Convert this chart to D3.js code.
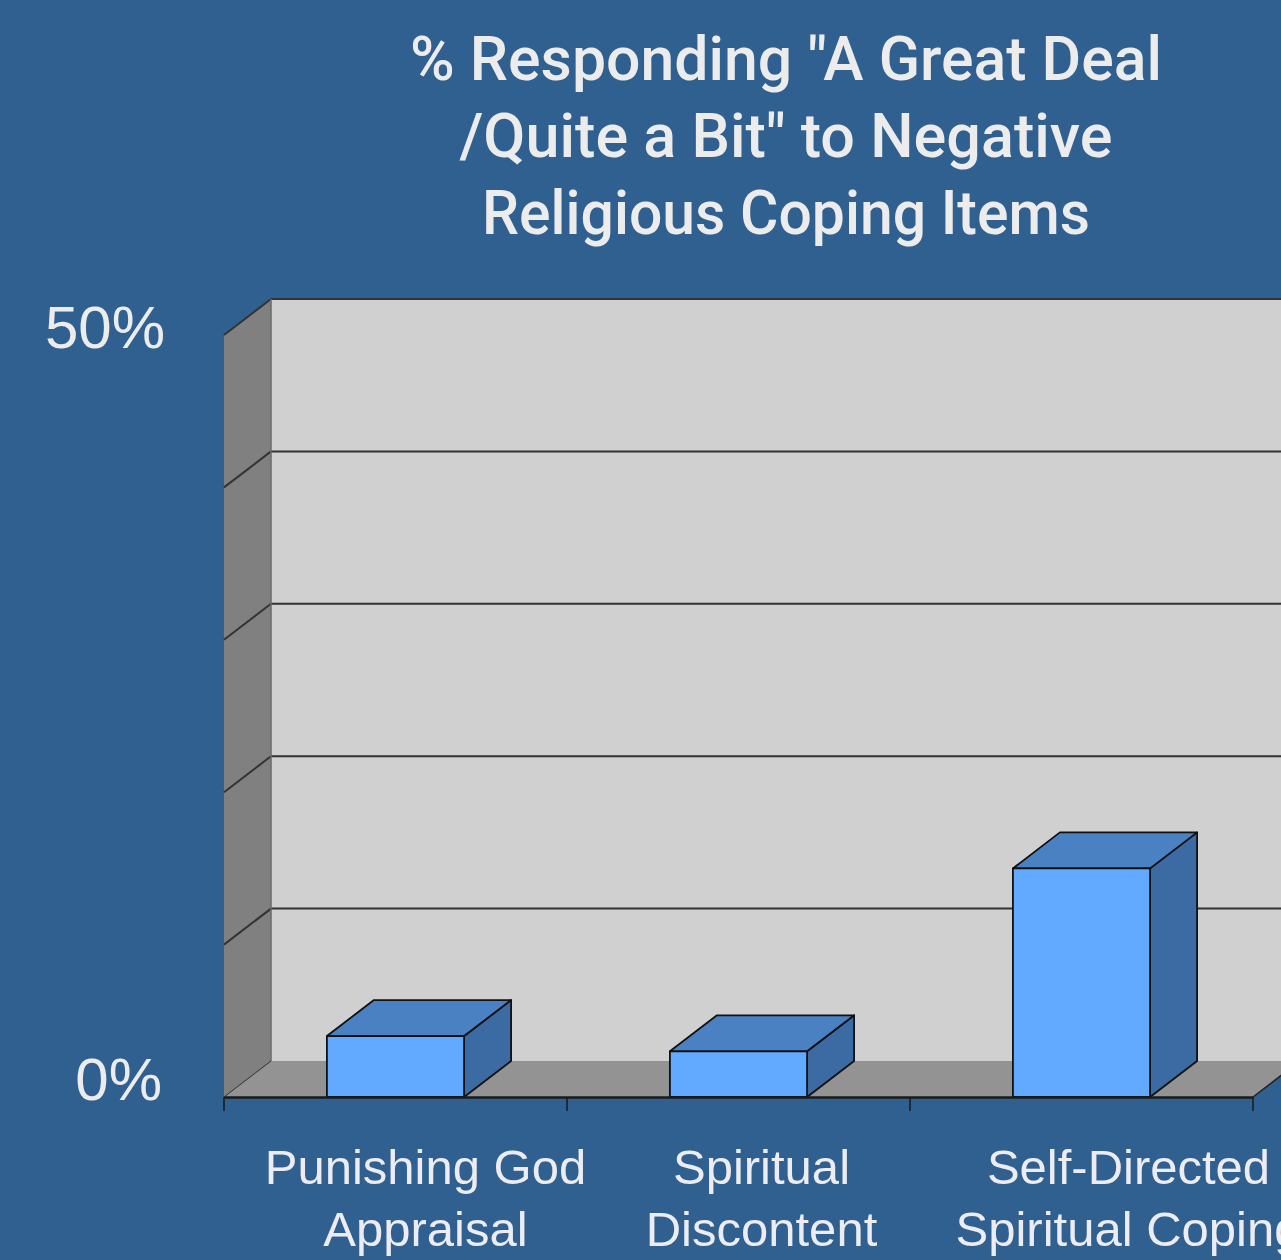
<!DOCTYPE html>
<html>
<head>
<meta charset="utf-8">
<script src="https://cdn.jsdelivr.net/npm/d3@7"></script>
<style>
  html, body { margin: 0; padding: 0; background: #30608f; overflow: hidden; }
  svg { display: block; }
</style>
</head>
<body>
<svg id="chart" width="1281" height="1260"></svg>
<script>
// ---- data ----
const categories = ["Punishing God Appraisal", "Spiritual Discontent", "Self-Directed Spiritual Coping"];
const categoryLines = [["Punishing God", "Appraisal"], ["Spiritual", "Discontent"], ["Self-Directed", "Spiritual Coping"]];
const values = [4, 3, 15];
const yTicks = [0, 10, 20, 30, 40, 50];
const yTickLabels = ["0%", "50%"];
const yTickLabelValues = [0, 50];
const titleLines = ["% Responding \"A Great Deal", "/Quite a Bit\" to Negative", "Religious Coping Items"];

// ---- layout ----
const W = 1281, H = 1260;
const x0 = 224, x1 = 1253;     // front plane x extent
const yBase = 1097, yTop = 335; // front plane y for 0 and 50
const DX = 47, DY = -36;        // depth offset
const svg = d3.select("#chart");

const x = d3.scaleBand().domain(categories).range([x0, x1]).padding(0);
const y = d3.scaleLinear().domain([0, 50]).range([yBase, yTop]);

const colors = {
  back: "#d0d0d0", left: "#808080", floor: "#939393",
  grid: "#333333", front: "#62aaff", top: "#4a81c2", side: "#3c6aa3", edge: "#111"
};

// background
svg.append("rect").attr("width", W).attr("height", H).attr("fill", "#30608f");

// title
const title = svg.append("g");
const titleWidths = [752, 653, 608];
titleLines.forEach((t, i) => {
  title.append("text")
    .attr("x", 786).attr("y", 80 + i * 77)
    .attr("text-anchor", "middle")
    .attr("font-family", "Roboto, 'Liberation Sans', sans-serif")
    .attr("font-weight", 500)
    .attr("font-size", 62)
    .attr("fill", "#ececec")
    .attr("textLength", titleWidths[i])
    .attr("lengthAdjust", "spacingAndGlyphs")
    .text(t);
});

const pt = (px, py) => px + "," + py;

// back wall
svg.append("polygon")
  .attr("points", [pt(x0 + DX, y(50) + DY), pt(x1 + DX + 60, y(50) + DY), pt(x1 + DX + 60, y(0) + DY), pt(x0 + DX, y(0) + DY)].join(" "))
  .attr("fill", colors.back);

// left wall
svg.append("polygon")
  .attr("points", [pt(x0, y(50)), pt(x0 + DX, y(50) + DY), pt(x0 + DX, y(0) + DY), pt(x0, y(0))].join(" "))
  .attr("fill", colors.left);

// floor
svg.append("polygon")
  .attr("points", [pt(x0, y(0)), pt(x0 + DX, y(0) + DY), pt(x1 + DX, y(0) + DY), pt(x1, y(0))].join(" "))
  .attr("fill", colors.floor);

// gridlines (back wall + left wall diagonals)
const grid = svg.append("g").attr("stroke", colors.grid).attr("stroke-width", 2).attr("fill", "none");
yTicks.forEach(v => {
  if (v > 0) {
    grid.append("line")
      .attr("x1", x0 + DX).attr("x2", x1 + DX + 60)
      .attr("y1", y(v) + DY).attr("y2", y(v) + DY);
  }
  grid.append("line")
    .attr("x1", x0).attr("y1", y(v))
    .attr("x2", x0 + DX).attr("y2", y(v) + DY)
    .attr("stroke-width", v === 0 ? 1 : 2);
});
// back wall left edge shading
svg.append("line")
  .attr("x1", x0 + DX).attr("x2", x0 + DX)
  .attr("y1", y(50) + DY).attr("y2", y(0) + DY)
  .attr("stroke", "#6a6a6a").attr("stroke-width", 1.5);

// bars
const barW = x.bandwidth() * 0.4;
const bars = svg.append("g").attr("stroke", colors.edge).attr("stroke-width", 1.8).attr("stroke-linejoin", "round");
categories.forEach((c, i) => {
  const bx = x(c) + (x.bandwidth() - barW) / 2;
  const ty = y(values[i]);
  const by = y(0);
  // side
  bars.append("polygon")
    .attr("points", [pt(bx + barW, ty), pt(bx + barW + DX, ty + DY), pt(bx + barW + DX, by + DY), pt(bx + barW, by)].join(" "))
    .attr("fill", colors.side);
  // top
  bars.append("polygon")
    .attr("points", [pt(bx, ty), pt(bx + DX, ty + DY), pt(bx + barW + DX, ty + DY), pt(bx + barW, ty)].join(" "))
    .attr("fill", colors.top);
  // front
  bars.append("rect")
    .attr("x", bx).attr("y", ty).attr("width", barW).attr("height", by - ty)
    .attr("fill", colors.front);
});

// floor right edge
svg.append("line")
  .attr("x1", x1).attr("y1", y(0)).attr("x2", x1 + DX).attr("y2", y(0) + DY)
  .attr("stroke", "#222").attr("stroke-width", 1.5);

// x axis
const xAxis = d3.axisBottom(x).tickSize(0).tickFormat("");
const gx = svg.append("g").attr("transform", `translate(0,${yBase})`).call(xAxis);
gx.select(".domain").attr("stroke", "#1a1a1a").attr("stroke-width", 2.5);
// category boundary ticks
const bounds = categories.map(c => x(c)).concat([x1]);
gx.selectAll(".bound").data(bounds).join("line")
  .attr("class", "bound")
  .attr("x1", d => d).attr("x2", d => d)
  .attr("y1", 0).attr("y2", 14)
  .attr("stroke", "#1a1a1a").attr("stroke-width", 1.5);

// category labels
const labelDx = [30, 23, 47];
const lab = svg.append("g")
  .attr("font-family", "'Liberation Sans', Arial, sans-serif")
  .attr("font-size", 49)
  .attr("fill", "#ececf2")
  .attr("text-anchor", "middle");
categories.forEach((c, i) => {
  categoryLines[i].forEach((ln, j) => {
    lab.append("text")
      .attr("x", x(c) + x.bandwidth() / 2 + labelDx[i])
      .attr("y", 1184 + j * 62)
      .text(ln);
  });
});

// y labels
const yl = svg.append("g")
  .attr("font-family", "'Liberation Sans', Arial, sans-serif")
  .attr("font-size", 60)
  .attr("fill", "#ececec")
  .attr("text-anchor", "end");
yTickLabelValues.forEach((v, i) => {
  yl.append("text")
    .attr("x", v === 0 ? 162 : 165)
    .attr("y", y(v) + 3 + (v === 0 ? 0 : 10))
    .text(yTickLabels[i]);
});
</script>
</body>
</html>
